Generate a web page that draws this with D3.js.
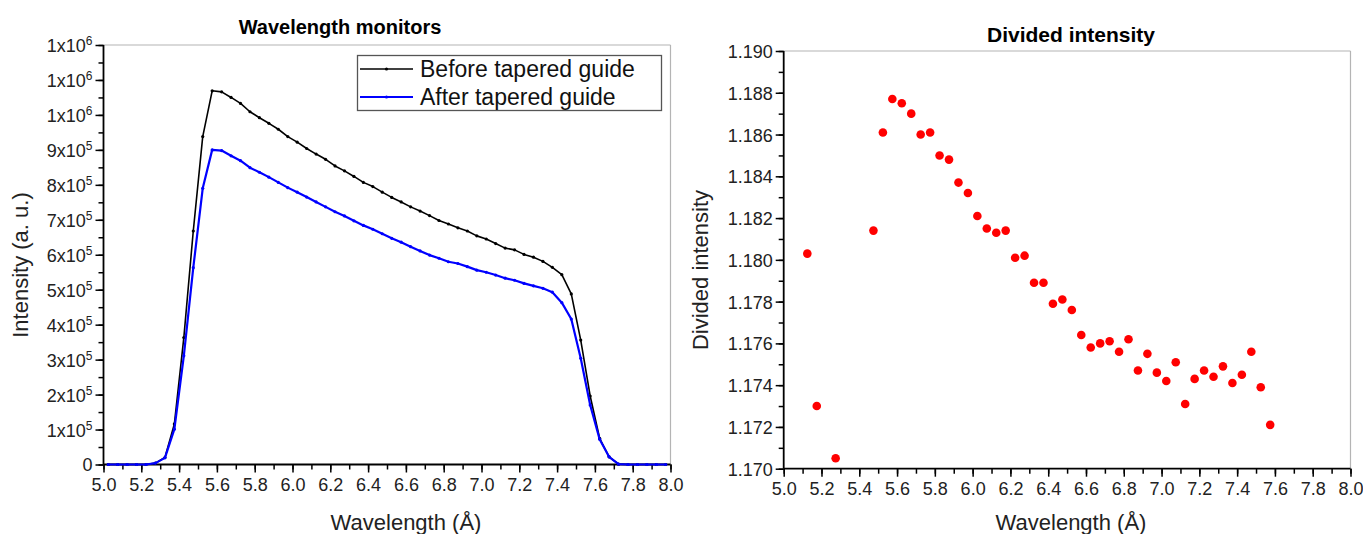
<!DOCTYPE html>
<html>
<head>
<meta charset="utf-8">
<script src="https://cdn.jsdelivr.net/npm/d3@7"></script>
<style>
  html, body { margin: 0; padding: 0; background: #fff; }
  svg { display: block; font-family: "Liberation Sans", Arial, sans-serif; }
</style>
</head>
<body>
<svg id="chart" width="1363" height="534"></svg>
<script>
// ---------- data ----------
const monitorWavelengths = [5.025,5.075,5.125,5.175,5.225,5.275,5.325,5.375,5.425,5.475,
  5.525,5.575,5.625,5.675,5.725,5.775,5.825,5.875,5.925,5.975,
  6.025,6.075,6.125,6.175,6.225,6.275,6.325,6.375,6.425,6.475,
  6.525,6.575,6.625,6.675,6.725,6.775,6.825,6.875,6.925,6.975,
  7.025,7.075,7.125,7.175,7.225,7.275,7.325,7.375,7.425,7.475,
  7.525,7.575,7.625,7.675,7.725,7.775,7.825,7.875,7.925,7.975];
const beforeGuide = [0,0,0,0,0,4000,20000,116000,363000,668000,
  938000,1069000,1066000,1050000,1033000,1009000,992000,976000,959000,938000,
  922000,904000,888000,873000,854000,840000,824000,807000,795000,779000,
  764000,751000,737000,725000,712000,698000,688000,677000,668000,654000,
  645000,632000,619000,614000,601000,593000,581000,564000,543000,488000,
  356000,196000,75000,22000,1000,0,0,0,0,0];
const afterGuide = [0,0,0,0,0,4000,19000,101000,311000,563000,
  790000,900000,898000,883000,869000,849000,836000,822000,807000,792000,
  779000,765000,751000,737000,723000,711000,697000,684000,673000,660000,
  647000,636000,623000,611000,599000,590000,580000,575000,566000,556000,
  550000,542000,533000,527000,518000,511000,504000,493000,463000,416000,
  304000,170000,72000,22000,1000,0,0,0,0,0];
const seriesNames = ["Before tapered guide", "After tapered guide"];

const ratioWavelengths = [5.125,5.175,5.275,5.475,5.525,5.575,5.625,5.675,5.725,5.775,
  5.825,5.875,5.925,5.975,6.025,6.075,6.125,6.175,6.225,6.275,
  6.325,6.375,6.425,6.475,6.525,6.575,6.625,6.675,6.725,6.775,
  6.825,6.875,6.925,6.975,7.025,7.075,7.125,7.175,7.225,7.275,
  7.325,7.375,7.425,7.475,7.525,7.575];
const dividedIntensity = [1.1803,1.1730,1.1705,1.1814,1.1861,1.1877,1.1875,1.1870,1.1860,1.1861,
  1.1850,1.1848,1.1837,1.1832,1.1821,1.1815,1.1813,1.1814,1.1801,1.1802,
  1.1789,1.1789,1.1779,1.1781,1.1776,1.1764,1.1758,1.1760,1.1761,1.1756,
  1.1762,1.1747,1.1755,1.1746,1.1742,1.1751,1.1731,1.1743,1.1747,1.1744,
  1.1749,1.1741,1.1745,1.1756,1.1739,1.1721];

const xTicks = [5.0,5.2,5.4,5.6,5.8,6.0,6.2,6.4,6.6,6.8,7.0,7.2,7.4,7.6,7.8,8.0];
const xTickLabels = ["5.0","5.2","5.4","5.6","5.8","6.0","6.2","6.4","6.6","6.8","7.0","7.2","7.4","7.6","7.8","8.0"];
const leftYTicks = [0,100000,200000,300000,400000,500000,600000,700000,800000,900000,1000000,1100000,1200000];
const leftYTickLabels = ["0","1x10^5","2x10^5","3x10^5","4x10^5","5x10^5","6x10^5","7x10^5","8x10^5","9x10^5","1x10^6","1x10^6","1x10^6"];
const rightYTicks = [1.170,1.172,1.174,1.176,1.178,1.180,1.182,1.184,1.186,1.188,1.190];
const rightYTickLabels = ["1.170","1.172","1.174","1.176","1.178","1.180","1.182","1.184","1.186","1.188","1.190"];

// ---------- drawing ----------
const svg = d3.select("#chart");
const FONT_TICK = 18, FONT_AXIS = 22, FONT_TITLE = 20;

function drawFrame(g, x, y, yTicks, yLabels, xMinorStep, yMinorStep) {
  const [x0, x1] = x.range();
  const [yb, yt] = y.range();
  g.append("line").attr("x1", x0).attr("x2", x1).attr("y1", yt).attr("y2", yt)
    .attr("stroke", "#b4b4b4").attr("stroke-width", 1.2);
  g.append("line").attr("x1", x1).attr("x2", x1).attr("y1", yt).attr("y2", yb)
    .attr("stroke", "#b4b4b4").attr("stroke-width", 1.2);

  const xd = x.domain();
  const xMinor = d3.range(xd[0], xd[1] + 1e-9, xMinorStep);
  g.append("g").attr("transform", `translate(0,${yb})`)
    .call(d3.axisBottom(x).tickValues(xMinor).tickSize(5).tickFormat(() => ""))
    .call(a => a.select(".domain").remove())
    .selectAll("line").attr("stroke", "#000").attr("stroke-width", 1.5);
  const yd = y.domain();
  const yMinor = d3.range(yd[0], yd[1] + yMinorStep * 1e-6, yMinorStep);
  g.append("g").attr("transform", `translate(${x0},0)`)
    .call(d3.axisLeft(y).tickValues(yMinor).tickSize(5).tickFormat(() => ""))
    .call(a => a.select(".domain").remove())
    .selectAll("line").attr("stroke", "#000").attr("stroke-width", 1.5);

  const gx = g.append("g").attr("transform", `translate(0,${yb})`)
    .call(d3.axisBottom(x).tickValues(xTicks).tickSize(8).tickPadding(6)
      .tickFormat((d, i) => xTickLabels[i]));
  gx.select(".domain").attr("stroke", "#000").attr("stroke-width", 1.8)
    .attr("d", `M${x0},0H${x1}`);
  gx.selectAll("line").attr("stroke", "#000").attr("stroke-width", 1.5);
  gx.selectAll("text").attr("font-size", FONT_TICK).attr("fill", "#222")
    .attr("font-family", "Liberation Sans, Arial, sans-serif");

  const gy = g.append("g").attr("transform", `translate(${x0},0)`)
    .call(d3.axisLeft(y).tickValues(yTicks).tickSize(8).tickPadding(4).tickFormat(() => ""));
  gy.select(".domain").attr("stroke", "#000").attr("stroke-width", 1.8)
    .attr("d", `M0,${yb}V${yt}`);
  gy.selectAll("line").attr("stroke", "#000").attr("stroke-width", 1.5);
  gy.selectAll(".tick").each(function (d, i) {
    const t = d3.select(this).select("text")
      .attr("x", -11).attr("dy", "0.36em")
      .attr("font-size", FONT_TICK).attr("fill", "#222")
      .attr("font-family", "Liberation Sans, Arial, sans-serif")
      .attr("text-anchor", "end").text(null);
    const parts = yLabels[i].split("^");
    t.append("tspan").text(parts[0]);
    if (parts.length > 1) {
      t.append("tspan").attr("dy", -7).attr("font-size", 12).text(parts[1]);
    }
  });
}

// ---------- left chart ----------
const gl = svg.append("g");
const xL = d3.scaleLinear().domain([5, 8]).range([103.5, 670.5]);
const yL = d3.scaleLinear().domain([0, 1200000]).range([464.5, 45]);
drawFrame(gl, xL, yL, leftYTicks, leftYTickLabels, 0.1, 50000);

const lineL = d3.line().x(d => xL(d[0])).y(d => yL(d[1]));
const seriesL = [
  { name: seriesNames[0], color: "#000000", width: 1.6, values: beforeGuide },
  { name: seriesNames[1], color: "#0000ff", width: 2.2, values: afterGuide }
];
seriesL.forEach(s => {
  const pts = monitorWavelengths.map((w, i) => [w, s.values[i]]);
  gl.append("path").datum(pts).attr("d", lineL).attr("fill", "none")
    .attr("stroke", s.color).attr("stroke-width", s.width).attr("stroke-linejoin", "round");
  gl.append("g").selectAll("circle").data(pts).join("circle")
    .attr("cx", d => xL(d[0])).attr("cy", d => yL(d[1])).attr("r", 1.6)
    .attr("fill", s.color);
});

const lg = gl.append("g");
lg.append("rect").attr("x", 357.5).attr("y", 55.5).attr("width", 304).attr("height", 55)
  .attr("fill", "#fff").attr("stroke", "#555").attr("stroke-width", 1.3);
seriesL.forEach((s, i) => {
  const yy = 69 + i * 28;
  lg.append("line").attr("x1", 360).attr("x2", 413).attr("y1", yy).attr("y2", yy)
    .attr("stroke", s.color).attr("stroke-width", s.width);
  lg.append("circle").attr("cx", 386.5).attr("cy", yy).attr("r", 1.6).attr("fill", s.color);
  lg.append("text").attr("x", 420).attr("y", yy).attr("dy", "0.35em")
    .attr("font-size", 23).attr("fill", "#111").text(s.name);
});

gl.append("text").attr("x", 340).attr("y", 34).attr("text-anchor", "middle")
  .attr("font-size", FONT_TITLE).attr("font-weight", "bold").attr("fill", "#000")
  .text("Wavelength monitors");
gl.append("text").attr("x", 406).attr("y", 530).attr("text-anchor", "middle")
  .attr("font-size", FONT_AXIS).attr("fill", "#222").text("Wavelength (Å)");
gl.append("text").attr("transform", "translate(28,265) rotate(-90)").attr("text-anchor", "middle")
  .attr("font-size", FONT_AXIS).attr("fill", "#222").text("Intensity (a. u.)");

// ---------- right chart ----------
const gr = svg.append("g");
const xR = d3.scaleLinear().domain([5, 8]).range([783.7, 1350.5]);
const yR = d3.scaleLinear().domain([1.170, 1.190]).range([468.7, 51]);
drawFrame(gr, xR, yR, rightYTicks, rightYTickLabels, 0.1, 0.001);

gr.append("g").selectAll("circle")
  .data(ratioWavelengths.map((w, i) => [w, dividedIntensity[i]]))
  .join("circle")
  .attr("cx", d => xR(d[0])).attr("cy", d => yR(d[1])).attr("r", 4.3)
  .attr("fill", "#ff0000");

gr.append("text").attr("x", 1071).attr("y", 42).attr("text-anchor", "middle")
  .attr("font-size", 21).attr("font-weight", "bold").attr("fill", "#000")
  .text("Divided intensity");
gr.append("text").attr("x", 1071).attr("y", 530).attr("text-anchor", "middle")
  .attr("font-size", FONT_AXIS).attr("fill", "#222").text("Wavelength (Å)");
gr.append("text").attr("transform", "translate(708,270) rotate(-90)").attr("text-anchor", "middle")
  .attr("font-size", FONT_AXIS).attr("fill", "#222").text("Divided intensity");
</script>
</body>
</html>
